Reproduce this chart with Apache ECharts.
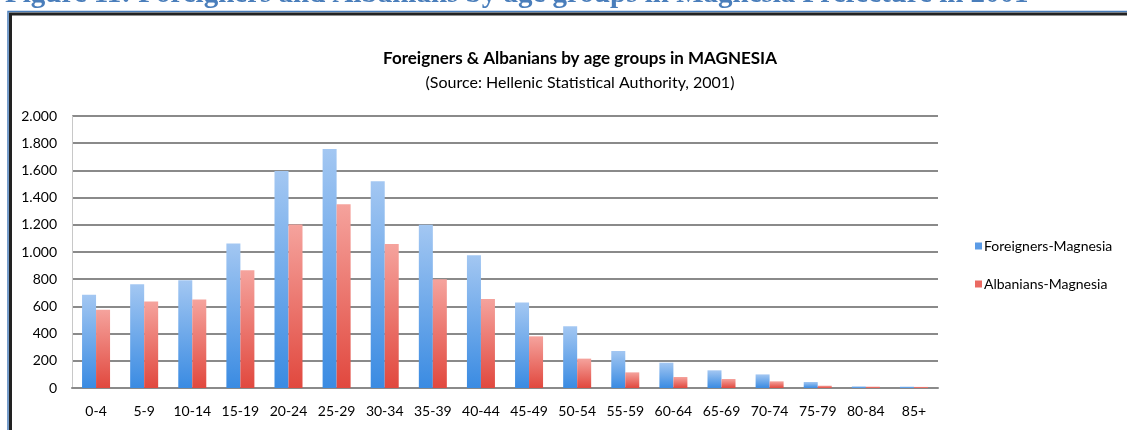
<!DOCTYPE html>
<html>
<head>
<meta charset="utf-8">
<title>Foreigners & Albanians by age groups in MAGNESIA</title>
<script src="https://cdn.jsdelivr.net/npm/echarts@6/dist/echarts.min.js"></script>
<style>
  html, body { margin: 0; padding: 0; background: #fff; }
  #chart { width: 1127px; height: 430px; }
</style>
</head>
<body>
<div id="chart"></div>
<script>
// age groups
var ageGroups = ["0-4", "5-9", "10-14", "15-19", "20-24", "25-29", "30-34", "35-39", "40-44",
  "45-49", "50-54", "55-59", "60-64", "65-69", "70-74", "75-79", "80-84", "85+"];
// values
var foreigners = [685, 763, 793, 1063, 1595, 1757, 1521, 1200, 977, 628, 454, 272, 186, 130, 100, 44, 12, 10];
var albanians = [575, 636, 650, 866, 1202, 1352, 1058, 800, 655, 380, 216, 115, 81, 66, 49, 17, 10, 8];
var yTicks = [0, 200, 400, 600, 800, 1000, 1200, 1400, 1600, 1800, 2000];

var font = "Lato, 'Open Sans', sans-serif";

function grad(top, bottom) {
  return new echarts.graphic.LinearGradient(0, 0, 0, 1, [
    { offset: 0, color: top },
    { offset: 1, color: bottom }
  ]);
}

var chart = echarts.init(document.getElementById("chart"));
chart.setOption({
  animation: false,
  backgroundColor: "#fff",
  textStyle: { fontFamily: font },
  title: [
    {
      text: "Foreigners & Albanians by age groups in MAGNESIA",
      left: 575, top: 45, textAlign: "center",
      textStyle: { fontFamily: font, fontSize: 17, fontWeight: "bold", color: "#000" }
    },
    {
      text: "(Source: Hellenic Statistical Authority, 2001)",
      left: 575, top: 70, textAlign: "center",
      textStyle: { fontFamily: font, fontSize: 16, fontWeight: "normal", color: "#000" }
    }
  ],
  graphic: [
    // caption of the document, cut off at the top
    {
      type: "text", left: 5, top: -20, silent: true,
      style: {
        text: "Figure 11: Foreigners and Albanians by age groups in Magnesia Prefecture in 2001",
        font: "bold 29px 'Liberation Serif', serif", fill: "#4a7ebb"
      }
    },
    // frame around the chart
    {
      type: "rect", silent: true,
      shape: { x: 8, y: 11.5, width: 1300, height: 600 },
      style: { fill: null, stroke: "#4a7ebb", lineWidth: 1.5 }
    },
    {
      type: "rect", silent: true,
      shape: { x: 10.5, y: 14, width: 1300, height: 600 },
      style: { fill: null, stroke: "#222", lineWidth: 3 }
    }
  ],
  legend: {
    orient: "vertical",
    left: 970, top: 234,
    itemWidth: 7, itemHeight: 7, itemGap: 24,
    icon: "rect",
    textStyle: { fontFamily: font, fontSize: 14, color: "#000", padding: [0, 0, 0, -3] },
    data: [
      { name: "Foreigners-Magnesia", itemStyle: { color: "#5b9be6" } },
      { name: "Albanians-Magnesia", itemStyle: { color: "#ea6a62" } }
    ]
  },
  grid: { left: 72, right: 189, top: 116, bottom: 42 },
  xAxis: {
    type: "category",
    data: ageGroups,
    axisTick: { show: false },
    axisLine: { lineStyle: { color: "#8a8a8a", width: 2 } },
    axisLabel: { fontFamily: font, fontSize: 14, color: "#000", margin: 16, interval: 0 }
  },
  yAxis: {
    type: "value",
    min: yTicks[0],
    max: yTicks[yTicks.length - 1],
    interval: 200,
    axisLine: { show: true, lineStyle: { color: "#c8c8c8", width: 1 } },
    axisTick: { show: false },
    splitLine: { lineStyle: { color: "#8a8a8a", width: 2 } },
    axisLabel: {
      fontFamily: font, fontSize: 14, color: "#000", margin: 15,
      formatter: function (v) {
        return String(v).replace(/\B(?=(\d{3})+(?!\d))/g, ".");
      }
    }
  },
  series: [
    {
      name: "Foreigners-Magnesia",
      type: "bar",
      data: foreigners,
      barWidth: 14,
      barGap: "0%",
      itemStyle: { color: grad("#a3c7f2", "#3a8be2") }
    },
    {
      name: "Albanians-Magnesia",
      type: "bar",
      data: albanians,
      barWidth: 14,
      barGap: "0%",
      itemStyle: { color: grad("#f5a39d", "#e1483e") }
    }
  ]
});
</script>
</body>
</html>
